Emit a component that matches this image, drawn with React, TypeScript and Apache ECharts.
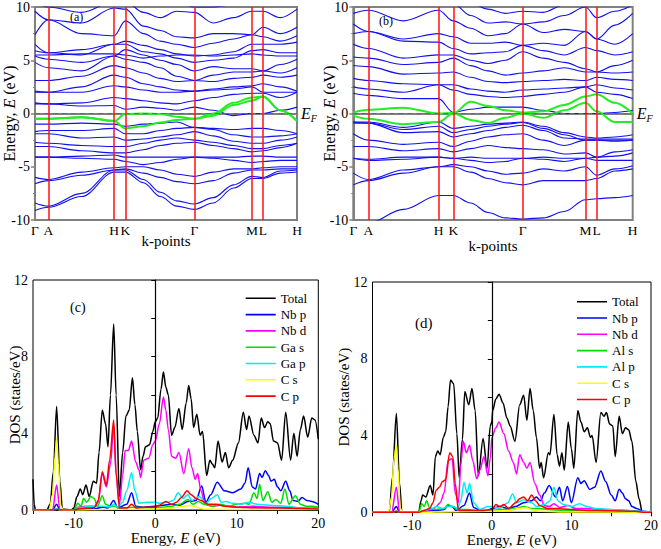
import React, { useEffect, useRef } from "react";
import * as echarts from "echarts";

const FONT = '"Liberation Serif", "Times New Roman", serif';

// ---------- Band structure (a) ----------
const kLabels = ["Γ", "A", "H", "K", "Γ", "M", "L", "H"];
const kPosA = [0, 5.1, 30.2, 34.5, 60.8, 82.8, 87.0, 100];
const kGridA = [0, 5.1, 17.8, 30.2, 34.5, 41.4, 47.8, 54.1, 60.8, 68.0, 75.8, 82.8, 87.0, 93.6, 100];
const bandsA = [
  [-9.1, -8.8, -7.8, -5.5, -5.5, -6.5, -7.8, -8.7, -9.0, -8.4, -7.0, -6.1, -6.1, -5.6, -5.5],
  [-8.4, -8.7, -7.5, -5.3, -5.3, -6.2, -7.4, -8.2, -8.5, -7.9, -6.7, -5.9, -6.0, -5.4, -5.3],
  [-6.6, -6.3, -5.8, -5.3, -5.2, -5.6, -6.0, -6.4, -6.6, -6.3, -5.6, -5.3, -5.3, -5.2, -5.2],
  [-6.0, -6.2, -5.5, -5.1, -5.0, -5.0, -5.3, -5.7, -5.9, -5.5, -5.2, -5.2, -5.1, -5.0, -5.0],
  [-4.1, -4.1, -4.2, -4.3, -4.5, -4.8, -4.6, -4.3, -4.1, -4.2, -4.4, -4.6, -4.5, -4.4, -4.4],
  [-4.1, -4.1, -4.0, -3.9, -4.1, -4.1, -4.1, -4.1, -4.1, -4.1, -4.1, -4.0, -4.0, -4.1, -4.1],
  [-3.1, -3.1, -3.5, -3.7, -3.7, -3.4, -3.0, -2.8, -2.7, -3.0, -3.3, -3.6, -3.5, -3.2, -2.8],
  [-2.7, -2.8, -3.0, -3.1, -3.1, -2.8, -2.5, -2.3, -2.5, -2.7, -3.0, -3.3, -3.3, -3.0, -2.8],
  [-1.9, -1.9, -2.3, -2.2, -2.5, -2.4, -2.2, -2.0, -1.7, -2.1, -2.6, -2.8, -2.8, -2.5, -2.2],
  [-1.7, -1.6, -1.6, -1.4, -1.9, -1.9, -1.6, -1.4, -1.3, -1.5, -2.0, -2.2, -2.2, -2.1, -1.9],
  [-1.0, -1.0, -0.9, -1.0, -1.2, -1.0, -0.9, -0.8, -1.3, -1.4, -1.5, -1.4, -1.4, -1.6, -1.9],
  [0.9, 0.9, 0.7, 0.75, 0.4, 0.6, 0.5, 0.3, 0.6, 0.3, -0.2, 0.0, 0.0, 0.3, 0.6],
  [1.0, 0.9, 1.0, 1.5, 1.4, 1.2, 1.0, 0.9, 1.2, 1.5, 1.8, 1.9, 1.9, 1.5, 2.0],
  [2.0, 2.0, 2.0, 2.6, 2.5, 2.2, 2.0, 2.0, 2.1, 2.2, 2.3, 2.5, 2.0, 2.0, 2.0],
  [2.1, 2.0, 2.5, 3.6, 3.4, 2.8, 2.5, 2.2, 2.1, 2.3, 2.5, 2.6, 2.8, 2.5, 2.1],
  [3.1, 3.1, 3.5, 4.5, 4.3, 3.8, 3.3, 3.0, 3.1, 3.0, 3.3, 3.4, 3.6, 3.4, 3.6],
  [4.8, 4.3, 4.0, 5.4, 5.1, 4.8, 4.3, 3.5, 3.1, 3.6, 3.9, 3.9, 4.0, 3.8, 4.3],
  [5.4, 5.1, 4.8, 5.4, 6.0, 5.5, 5.0, 4.6, 4.0, 4.4, 4.2, 4.2, 4.0, 4.6, 5.1],
  [5.5, 5.5, 5.6, 5.6, 5.5, 5.2, 5.4, 5.5, 5.5, 5.4, 5.5, 5.6, 5.5, 5.4, 5.4],
  [5.9, 5.7, 5.5, 6.5, 6.5, 5.8, 5.6, 5.2, 4.8, 5.0, 5.2, 5.9, 6.0, 5.7, 5.7],
  [6.5, 5.7, 6.0, 6.5, 6.8, 6.4, 6.0, 5.6, 5.4, 5.5, 5.8, 6.5, 6.5, 6.5, 6.7],
  [7.4, 8.8, 7.5, 7.3, 8.7, 7.5, 6.8, 6.5, 6.2, 6.6, 7.0, 7.4, 7.2, 6.8, 7.3],
  [9.6, 8.8, 8.5, 9.9, 9.8, 8.2, 7.8, 7.2, 7.1, 7.5, 7.5, 7.4, 8.1, 7.5, 8.1],
  [10.5, 10.0, 9.5, 10.5, 10.5, 9.5, 9.0, 9.6, 9.5, 8.5, 9.0, 9.6, 9.6, 9.0, 9.8],
  [11, 11, 10.8, 11, 11, 10.5, 10.2, 10.5, 10.0, 10.0, 10.2, 10.5, 10.4, 10.2, 10.5],
];
const greenA = [
  [-0.5, -0.5, -0.35, -0.7, -0.05, 0.0, -0.05, -0.3, -0.5, 0.0, 1.0, 1.5, 1.6, 0.3, -0.7],
  [-0.5, -0.5, -0.35, -0.7, -1.4, -1.2, -0.85, -0.6, -0.5, -0.2, 0.8, 1.2, 1.6, 0.3, -0.7],
];

// ---------- Band structure (b) ----------
const kPosB = [0, 5.4, 30.5, 35.8, 60.6, 83.1, 87.1, 100];
const kGridB = [0, 5.4, 17.9, 30.5, 35.8, 42.0, 48.2, 54.4, 60.6, 68.0, 75.5, 83.1, 87.1, 93.6, 100];
const bandsB = [
  [-10.2, -10.3, -9.0, -7.7, -7.7, -8.4, -9.3, -9.8, -9.9, -9.8, -9.2, -8.1, -8.0, -7.9, -7.7],
  [-6.7, -6.3, -5.6, -5.0, -5.0, -5.5, -6.1, -6.5, -6.7, -6.3, -6.3, -6.3, -6.1, -5.4, -5.2],
  [-5.6, -6.2, -5.3, -5.0, -4.8, -5.0, -5.4, -5.7, -5.6, -5.2, -5.4, -5.0, -5.8, -5.2, -4.9],
  [-4.2, -4.4, -4.3, -4.1, -4.2, -4.4, -4.6, -4.5, -4.2, -4.3, -4.5, -4.2, -4.4, -4.4, -4.4],
  [-4.2, -4.3, -4.1, -4.1, -4.2, -4.1, -4.2, -4.2, -4.2, -4.1, -4.2, -4.2, -4.1, -4.0, -3.7],
  [-3.1, -3.1, -3.5, -3.3, -3.6, -3.3, -3.0, -3.2, -3.3, -3.4, -3.8, -3.7, -4.1, -3.6, -3.4],
  [-1.9, -2.5, -2.9, -2.7, -3.1, -2.6, -2.2, -2.0, -1.9, -2.5, -3.0, -2.5, -2.5, -2.6, -2.5],
  [-0.9, -0.9, -1.8, -1.7, -2.2, -1.9, -1.6, -1.3, -1.1, -1.6, -2.3, -2.4, -2.4, -2.4, -2.4],
  [-0.8, -0.9, -1.5, -1.2, -1.8, -1.5, -1.2, -1.0, -0.85, -1.4, -2.0, -2.5, -2.5, -2.5, -2.5],
  [-0.8, -0.8, -1.3, -0.8, -1.4, -1.2, -1.0, -0.9, -0.8, -1.2, -1.8, -2.2, -2.3, -2.2, -2.0],
  [1.9, 1.7, 1.4, 1.4, 0.1, 0.4, 0.6, 0.6, 0.6, 0.3, 0.0, 0.0, 0.0, 0.1, 0.3],
  [2.5, 2.3, 2.0, 2.7, 2.2, 1.8, 1.6, 1.5, 1.6, 1.8, 2.0, 2.5, 2.0, 1.8, 1.4],
  [3.3, 3.1, 2.8, 2.7, 2.7, 2.3, 2.1, 2.0, 2.2, 2.3, 2.4, 2.5, 2.7, 2.4, 2.2],
  [4.5, 4.4, 3.7, 3.8, 3.9, 3.4, 3.0, 2.9, 3.0, 3.1, 3.2, 3.1, 3.4, 3.2, 3.1],
  [5.3, 5.2, 4.6, 4.8, 5.2, 4.5, 4.0, 3.6, 3.8, 4.0, 4.3, 3.9, 3.9, 3.8, 3.9],
  [6.5, 6.1, 5.2, 5.5, 5.5, 5.0, 4.7, 5.0, 5.8, 5.2, 4.8, 4.2, 3.9, 4.5, 5.0],
  [7.5, 7.7, 6.8, 6.7, 6.1, 5.6, 5.7, 5.8, 6.4, 5.9, 5.5, 6.2, 5.9, 5.5, 5.8],
  [8.4, 7.7, 7.0, 7.5, 7.2, 6.6, 6.6, 6.7, 6.4, 6.6, 6.4, 7.7, 7.0, 6.5, 7.5],
  [9.4, 9.7, 8.7, 9.7, 8.7, 8.0, 7.3, 7.5, 8.4, 7.6, 7.9, 7.7, 7.0, 8.3, 9.4],
  [10.5, 10.4, 10.2, 10.5, 10.3, 9.2, 8.5, 8.6, 8.4, 8.6, 9.2, 10.0, 9.0, 9.6, 10.2],
  [11, 11, 11, 11, 11, 10.4, 9.8, 9.4, 9.6, 9.5, 10.2, 10.5, 10.5, 10.6, 10.8],
];
const greenB = [
  [0.1, 0.35, 0.55, 0.0, 0.05, 1.1, 0.7, 0.3, 0.1, 0.2, 0.8, 1.6, 1.8, 1.0, 0.0],
  [-0.2, -0.5, -1.0, -0.8, 0.0, -0.6, -0.9, -0.4, 0.0, -0.4, 0.3, 1.0, 0.2, -0.8, -0.8],
];

// ---------- DOS (c) ----------
const dosNamesC = ["Total", "Nb p", "Nb d", "Ga s", "Ga p", "C s", "C p"];
const dosNamesD = ["Total", "Nb p", "Nb d", "Al s", "Al p", "C s", "C p"];
const dosColors = ["#000000", "#0000ff", "#ff00ff", "#00dd00", "#00eeee", "#ffff00", "#ff0000"];

const totalC = [[-15,1.6],[-14.85,0.3],[-14.7,0],[-13.3,0],[-12.9,0.3],[-12.5,2.0],[-12.1,5.4],[-11.7,1.5],[-11.4,0.05],[-10.3,0],[-10.0,0.1],[-9.6,0.7],[-9.2,1.1],[-8.9,0.8],[-8.5,1.3],[-8.1,0.7],[-7.6,1.5],[-7.2,1.4],[-6.9,3.0],[-6.5,5.2],[-6.1,4.5],[-5.8,3.3],[-5.5,6.0],[-5.1,9.7],[-4.8,6.0],[-4.4,0.7],[-4.0,3.0],[-3.6,4.9],[-3.2,5.2],[-2.8,6.9],[-2.5,5.5],[-2.2,4.1],[-1.8,2.1],[-1.5,2.8],[-1.2,3.3],[-0.7,3.4],[-0.3,4.1],[0,4.6],[0.3,4.8],[0.7,6.3],[1.0,7.2],[1.3,6.4],[1.6,6.0],[2.0,3.9],[2.4,4.3],[2.9,5.3],[3.3,4.2],[3.8,5.6],[4.1,6.5],[4.4,5.8],[4.7,4.3],[5.1,5.0],[5.5,3.9],[5.8,4.1],[6.3,1.8],[6.7,2.6],[7.0,2.4],[7.3,2.2],[7.7,3.6],[8.2,2.5],[8.6,3.0],[9.0,2.2],[9.5,2.6],[10.2,3.5],[10.8,5.1],[11.2,4.2],[11.5,4.9],[12.1,3.9],[12.6,3.5],[13.0,4.8],[13.4,4.3],[13.8,4.6],[14.1,4.5],[14.5,3.6],[15.0,3.5],[15.5,2.6],[16.0,5.1],[16.6,2.6],[17.0,4.0],[17.4,2.8],[17.8,4.2],[18.2,4.9],[18.7,3.8],[19.2,4.8],[19.6,4.7],[20,3.7]];
const nbpC = [[-15,0],[-12.6,0],[-12.1,0.3],[-11.7,0],[-10,0],[-9.5,0.1],[-8.5,0.1],[-7.5,0.05],[-6.5,0.15],[-5.8,0.1],[-5.1,0.5],[-4.6,0.1],[-3.5,0.3],[-2.9,0.9],[-2.4,0.2],[-1.5,0.15],[0,0.2],[1,0.25],[2,0.3],[3,0.25],[4,0.45],[5,0.5],[5.7,1.25],[6.2,0.4],[6.8,0.8],[7.6,1.45],[8.5,1.0],[9.5,0.9],[10.5,1.1],[11.0,1.4],[11.4,2.2],[11.9,1.2],[12.3,1.1],[12.8,1.9],[13.1,1.7],[13.5,2.05],[13.9,1.8],[14.2,1.5],[14.6,1.6],[15.0,1.2],[15.4,1.0],[16.0,1.5],[16.5,1.0],[16.9,0.5],[17.5,0.45],[18.0,0.65],[18.6,0.5],[19.2,0.45],[20,0.3]];
const nbdC = [[-15,0],[-12.6,0],[-12.1,1.3],[-11.7,0],[-10,0],[-9.5,0.15],[-8.5,0.2],[-7.5,0.2],[-7.0,0.4],[-6.5,1.9],[-6.0,1.2],[-5.5,2.4],[-5.1,4.4],[-4.8,1.8],[-4.4,0.3],[-4.0,1.8],[-3.7,3.1],[-3.3,3.1],[-2.9,3.6],[-2.4,2.5],[-2.0,2.1],[-1.8,1.7],[-1.4,2.6],[-0.8,2.7],[-0.3,3.4],[0,3.6],[0.5,4.5],[1.0,5.9],[1.3,5.2],[1.6,4.2],[2.0,2.8],[2.5,2.7],[2.9,3.0],[3.5,1.9],[4.1,3.2],[4.5,2.2],[4.9,1.6],[5.2,1.9],[5.6,1.0],[6.1,0.3],[7,0.2],[8,0.25],[9,0.2],[10,0.15],[12,0.2],[14,0.15],[16,0.15],[18,0.1],[20,0.1]];
const gasC = [[-15,0],[-12.5,0],[-12.1,0.05],[-11.7,0],[-10,0],[-9.5,0.35],[-9.1,0.2],[-8.8,0.6],[-8.4,0.4],[-7.9,0.7],[-7.5,0.6],[-7.1,0.2],[-6.5,0.75],[-6.1,0.3],[-5.5,0.2],[-5.0,0.2],[-4.0,0.1],[-2.5,0.15],[-1,0.1],[0,0.1],[1,0.15],[2,0.2],[3,0.3],[4,0.55],[4.6,0.3],[5.3,0.45],[6,0.3],[7,0.2],[8,0.3],[9,0.2],[10,0.3],[11,0.35],[11.5,0.3],[12.1,0.9],[12.5,0.6],[12.8,1.35],[13.2,0.5],[13.8,0.95],[14.3,0.4],[14.8,0.55],[15.4,0.35],[15.9,1.1],[16.4,0.3],[17.2,0.75],[17.8,0.3],[18.5,0.2],[19.3,0.2],[20,0.15]];
const gapC = [[-15,0],[-12.5,0],[-12.1,0.05],[-11.7,0],[-10,0],[-9.5,0.1],[-8,0.2],[-6.5,0.2],[-5.5,0.15],[-5.1,0.3],[-4.6,0.15],[-4.0,0.4],[-3.5,1.0],[-2.9,1.95],[-2.5,1.0],[-2.0,0.35],[-1.0,0.4],[0,0.4],[0.5,0.35],[1.5,0.4],[2.2,0.5],[2.8,0.9],[3.4,0.6],[4.0,0.8],[4.5,0.5],[5.4,0.7],[6.2,0.35],[6.9,0.6],[7.6,0.8],[8.1,0.4],[8.7,0.45],[9.5,0.35],[10.5,0.3],[11.5,0.4],[12.5,0.3],[14,0.25],[16,0.2],[18,0.1],[20,0.05]];
const csC = [[-15,0],[-13.0,0],[-12.6,0.8],[-12.3,2.8],[-12.1,3.7],[-11.9,2.5],[-11.6,0.2],[-11.3,0],[-10,0],[-6,0.03],[0,0.05],[2,0.1],[3.5,0.2],[4.2,0.25],[5,0.15],[6,0.05],[10,0.02],[20,0.02]];
const cpC = [[-15,0],[-12.5,0],[-12.1,0.03],[-11.7,0],[-10,0],[-9.5,0.05],[-8,0.1],[-7.4,0.15],[-7.0,0.5],[-6.5,2.0],[-6.0,1.3],[-5.6,2.6],[-5.1,4.7],[-4.8,1.9],[-4.4,0.1],[-3.5,0.1],[-2.9,0.3],[-2.3,0.1],[-1,0.15],[0,0.15],[0.5,0.25],[1.3,0.45],[2.0,0.3],[2.6,0.4],[3.2,0.65],[3.9,1.0],[4.4,0.8],[5.0,0.6],[5.6,0.5],[6.5,0.3],[7.5,0.3],[8.5,0.2],[10,0.15],[12,0.12],[15,0.1],[18,0.08],[20,0.05]];

// ---------- DOS (d) ----------
const totalD = [[-15,0],[-12.9,0],[-12.5,1.8],[-12.0,5.15],[-11.6,1.5],[-11.3,0],[-9.2,0],[-8.9,0.6],[-8.7,0.9],[-8.3,0.8],[-7.75,1.4],[-7.4,0.9],[-7.1,2.9],[-6.8,3.2],[-6.5,3.0],[-6.1,3.9],[-5.8,4.2],[-5.5,5.5],[-5.2,6.9],[-4.8,6.7],[-4.4,4.1],[-4.1,1.8],[-3.7,3.8],[-3.4,6.3],[-2.9,5.6],[-2.5,6.45],[-2.1,5.3],[-1.7,1.9],[-1.1,3.85],[-0.6,2.3],[-0.2,4.5],[0,4.7],[0.1,5.3],[0.5,5.9],[0.9,6.15],[1.4,5.7],[1.9,4.9],[2.3,4.5],[2.9,3.7],[3.5,5.6],[4.0,6.1],[4.4,4.8],[4.8,6.45],[5.2,5.3],[5.6,3.9],[6.0,2.3],[6.2,2.6],[6.5,1.8],[7.1,3.1],[7.3,3.0],[7.8,5.1],[8.2,3.0],[8.5,2.4],[8.8,3.1],[9.1,2.2],[9.6,4.7],[10.0,3.3],[10.3,2.3],[10.8,5.3],[11.2,4.7],[11.6,4.2],[12.0,4.4],[12.4,3.9],[12.6,4.0],[13.1,2.6],[13.7,5.2],[14.1,5.0],[14.4,5.2],[14.8,4.6],[15.2,4.5],[15.5,2.9],[16.0,5.0],[16.4,4.1],[16.8,4.4],[17.2,4.3],[17.6,3.7],[18.1,1.6],[18.5,0.7],[18.9,0],[20,0]];
const nbpD = [[-15,0],[-12.6,0],[-12.0,0.3],[-11.6,0],[-9.2,0],[-8.5,0.05],[-7,0.1],[-6,0.15],[-5.5,0.35],[-5.0,0.3],[-4.5,0.1],[-3.5,0.35],[-2.8,1.0],[-2.3,0.25],[-1.5,0.1],[-0.5,0.1],[0,0.2],[1,0.3],[2,0.2],[3,0.3],[4,0.5],[5,0.6],[5.6,0.8],[6.1,0.6],[6.6,1.0],[7.2,1.4],[8.0,0.8],[8.5,1.3],[8.9,0.6],[9.5,1.35],[10.0,0.5],[10.8,1.8],[11.2,1.5],[11.6,1.65],[12.3,1.2],[12.9,1.3],[13.7,2.15],[14.3,1.6],[15.0,0.9],[15.5,0.6],[16.0,1.2],[16.4,1.0],[16.8,0.7],[17.2,0.6],[17.6,0.3],[18.2,0.2],[19,0.05],[20,0]];
const nbdD = [[-15,0],[-12.6,0],[-12.0,1.3],[-11.6,0],[-9.2,0],[-8.5,0.1],[-7.5,0.15],[-7.0,0.3],[-6.5,0.5],[-6.0,1.0],[-5.5,2.7],[-5.0,2.8],[-4.6,1.0],[-4.2,0.5],[-3.9,2.5],[-3.6,3.7],[-3.2,3.1],[-2.8,3.5],[-2.4,2.7],[-1.9,1.75],[-1.5,2.2],[-1.0,2.9],[-0.5,1.9],[-0.2,2.8],[0,3.9],[0.5,4.4],[0.9,4.7],[1.5,4.1],[2.1,3.2],[2.7,2.6],[3.1,2.0],[3.5,3.0],[4.0,2.6],[4.4,2.3],[4.8,2.6],[5.4,1.5],[6.0,0.9],[6.6,0.35],[7.2,0.3],[7.8,0.45],[8.5,0.25],[9.6,0.35],[10.5,0.2],[12,0.2],[14,0.15],[16,0.12],[18,0.08],[19,0.02],[20,0]];
const alsD = [[-15,0],[-12.5,0],[-12.0,0.05],[-11.6,0],[-9.2,0],[-8.8,0.45],[-8.5,0.3],[-8.2,0.6],[-7.8,0.2],[-7,0.15],[-6,0.2],[-5.5,0.4],[-5.0,0.3],[-4.3,0.15],[-3,0.15],[-2,0.1],[0,0.1],[1,0.15],[2,0.15],[3,0.2],[4,0.3],[5,0.2],[6,0.2],[7,0.15],[9,0.1],[12,0.1],[15,0.08],[18,0.05],[19,0],[20,0]];
const alpD = [[-15,0],[-12.5,0],[-12.0,0.05],[-11.6,0],[-9.2,0],[-8.5,0.1],[-7.5,0.2],[-7.0,0.3],[-6.2,0.2],[-5.5,0.3],[-4.8,0.3],[-4.3,0.2],[-3.9,0.6],[-3.5,1.55],[-3.1,1.0],[-2.8,1.5],[-2.3,0.5],[-1.5,0.15],[-0.5,0.3],[0,0.3],[1,0.2],[2,0.5],[2.6,0.95],[3.1,0.5],[4.0,0.65],[5.0,0.5],[5.6,0.3],[6.6,0.4],[7.3,0.6],[7.8,1.3],[8.3,0.6],[9.0,0.4],[10,0.3],[11,0.45],[12,0.3],[13,0.2],[15,0.15],[17,0.1],[18.5,0.05],[20,0]];
const csD = [[-15,0],[-13.0,0],[-12.6,0.8],[-12.3,2.8],[-12.0,3.5],[-11.8,2.3],[-11.5,0.2],[-11.2,0],[-9,0],[-5,0.03],[0,0.05],[2,0.1],[3.5,0.2],[4.2,0.25],[5,0.15],[6,0.05],[10,0.02],[20,0]];
const cpD = [[-15,0],[-12.5,0],[-12.0,0.05],[-11.6,0],[-9.2,0],[-8.5,0.1],[-7.8,0.2],[-7.4,0.5],[-7.0,1.15],[-6.6,1.3],[-6.2,1.6],[-5.8,1.7],[-5.3,3.1],[-4.9,2.9],[-4.6,1.5],[-4.2,0.1],[-3,0.1],[-1,0.1],[0,0.15],[0.5,0.4],[1.0,0.3],[1.5,0.4],[2.1,0.2],[3.0,0.5],[3.5,0.7],[4.0,0.8],[4.5,0.6],[5.0,0.9],[5.5,0.6],[6.0,0.35],[7,0.2],[8,0.2],[10,0.15],[12,0.1],[15,0.08],[18,0.05],[19,0],[20,0]];

const dosC = [totalC, nbpC, nbdC, gasC, gapC, csC, cpC];
const dosD = [totalD, nbpD, nbdD, alsD, alpD, csD, cpD];

// thin horizontal line icon; tiny corner triangles fix the icon's bounding box
const LINE_ICON = "path://M0,0 L0.05,0 L0,0.05 Z M0,6.2 L30,6.2 L30,7.8 L0,7.8 Z M30,14 L29.95,14 L30,13.95 Z";

function buildOption() {
  const txt = { fontFamily: FONT, color: "#000" };
  const gray = "#808080";

  const bandX = (gi: number, kPos: number[], nameGap: number) => ({
    type: "value",
    gridIndex: gi,
    min: 0,
    max: 100,
    axisLine: { show: true, lineStyle: { color: gray, width: 2 } },
    axisTick: { show: false },
    splitLine: { show: false },
    axisLabel: {
      customValues: kPos,
      fontSize: 13.5,
      margin: 3,
      ...txt,
      formatter: (v: number) => {
        const i = kPos.findIndex((p) => Math.abs(p - v) < 1e-6);
        return i >= 0 ? kLabels[i] : "";
      },
    },
    name: "k-points",
    nameLocation: "middle",
    nameGap,
    nameMoveOverlap: false,
    nameTextStyle: { fontSize: 15, ...txt },
  });
  const bandY = (gi: number, nameGap: number) => ({
    type: "value",
    gridIndex: gi,
    min: -10,
    max: 10,
    interval: 5,
    axisLine: { show: true, lineStyle: { color: gray, width: 2 } },
    axisTick: { show: true, inside: false, length: 4, lineStyle: { color: gray, width: 1.5 } },
    minorTick: { show: true, splitNumber: 2, length: 2, lineStyle: { color: gray } },
    splitLine: { show: false },
    axisLabel: { fontSize: 14, margin: 5, ...txt },
    name: "Energy, {i|E} (eV)",
    nameLocation: "middle",
    nameGap,
    nameMoveOverlap: false,
    nameTextStyle: {
      fontSize: 16,
      ...txt,
      rich: { i: { fontStyle: "italic", fontSize: 16, fontFamily: FONT, color: "#000" } },
    },
  });
  const dosX = (gi: number, nameGap: number) => ({
    type: "value",
    gridIndex: gi,
    min: -15,
    max: 20,
    interval: 5,
    axisLine: { show: true, lineStyle: { color: "#000", width: 1 } },
    axisTick: { show: true, inside: false, length: 4, lineStyle: { color: "#000" } },
    splitLine: { show: false },
    axisLabel: {
      fontSize: 14,
      margin: 6,
      ...txt,
      formatter: (v: number) => (Math.abs(v % 10) < 1e-6 ? String(v) : ""),
    },
    name: "Energy, {i|E} (eV)",
    nameLocation: "middle",
    nameGap,
    nameMoveOverlap: false,
    nameTextStyle: {
      fontSize: 15,
      ...txt,
      rich: { i: { fontStyle: "italic", fontSize: 15, fontFamily: FONT, color: "#000" } },
    },
  });
  const dosY = (gi: number, nameGap: number) => ({
    type: "value",
    gridIndex: gi,
    min: 0,
    max: 12,
    interval: 2,
    axisLine: { show: true, lineStyle: { color: "#000", width: 1 } },
    axisTick: { show: true, inside: false, length: 4, lineStyle: { color: "#000" } },
    splitLine: { show: false },
    axisLabel: {
      fontSize: 14,
      margin: 5,
      ...txt,
      formatter: (v: number) => (Math.abs(v % 4) < 1e-6 ? String(v) : ""),
    },
    name: "DOS (states/eV)",
    nameLocation: "middle",
    nameGap,
    nameMoveOverlap: false,
    nameTextStyle: { fontSize: 15, ...txt },
  });

  const series: any[] = [];
  const efLabel = {
    show: true,
    position: "end",
    distance: 4,
    formatter: "{e|E}{f|F}",
    rich: {
      e: { fontStyle: "italic", fontSize: 16, fontFamily: FONT, color: "#000" },
      f: { fontStyle: "italic", fontSize: 10, fontFamily: FONT, color: "#000", padding: [10, 0, 0, 0] },
    },
  };
  const addBands = (gi: number, kGrid: number[], kPos: number[], bands: number[][], greens: number[][]) => {
    bands.forEach((b, bi) => {
      series.push({
        type: "line",
        xAxisIndex: gi,
        yAxisIndex: gi,
        data: kGrid.map((k, i) => [k, b[i]]),
        symbol: "none",
        smooth: 0.35,
        smoothMonotone: "x",
        silent: true,
        lineStyle: { color: "#1010f0", width: 1.1 },
        z: 2,
        markLine:
          bi === 0
            ? {
                silent: true,
                symbol: ["none", "none"],
                animation: false,
                data: [
                  ...kPos.slice(1, -1).map((k) => ({
                    xAxis: k,
                    lineStyle: { color: "#ff1010", width: 1.5, type: "solid" },
                    label: { show: false },
                  })),
                  {
                    yAxis: 0,
                    lineStyle: { color: "#ff00ff", width: 1.2, type: [5, 4] },
                    label: efLabel,
                  },
                ],
              }
            : undefined,
      });
    });
    greens.forEach((g) => {
      series.push({
        type: "line",
        xAxisIndex: gi,
        yAxisIndex: gi,
        data: kGrid.map((k, i) => [k, g[i]]),
        symbol: "none",
        smooth: 0.35,
        smoothMonotone: "x",
        silent: true,
        lineStyle: { color: "#22ee22", width: 2 },
        z: 3,
      });
    });
  };
  addBands(0, kGridA, kPosA, bandsA, greenA);
  addBands(1, kGridB, kPosB, bandsB, greenB);

  const addDos = (gi: number, names: string[], sets: number[][][]) => {
    sets.forEach((d, i) => {
      series.push({
        type: "line",
        name: names[i],
        xAxisIndex: gi,
        yAxisIndex: gi,
        data: d,
        symbol: "none",
        smooth: 0.3,
        smoothMonotone: "x",
        silent: true,
        color: dosColors[i],
        lineStyle: { color: dosColors[i], width: 1.5 },
        z: 2 + i * 0.01,
        markLine:
          i === 0
            ? {
                silent: true,
                symbol: ["none", "none"],
                animation: false,
                data: [{ xAxis: 0, lineStyle: { color: "#000", width: 1.2, type: "solid" }, label: { show: false } }],
              }
            : undefined,
      });
    });
  };
  addDos(2, dosNamesC, dosC);
  addDos(3, dosNamesD, dosD);

  const legendBase = {
    orient: "vertical",
    itemWidth: 30,
    itemHeight: 14,
    itemGap: 2.3,
    icon: LINE_ICON,
    selectedMode: false,
    textStyle: { fontSize: 13, ...txt },
  };

  return {
    animation: false,
    backgroundColor: "#fff",
    textStyle: { fontFamily: FONT },
    grid: [
      { left: 35, top: 6, width: 262, height: 214, show: true, borderColor: "#808080", borderWidth: 2 },
      { left: 353.3, top: 6.5, width: 279.4, height: 213.5, show: true, borderColor: "#808080", borderWidth: 2 },
      { left: 33, top: 280, width: 285.3, height: 230, show: true, borderColor: "#000", borderWidth: 1 },
      { left: 372.5, top: 282, width: 280.2, height: 230.3, show: true, borderColor: "#000", borderWidth: 1 },
    ],
    xAxis: [bandX(0, kPosA, 13), bandX(1, kPosB, 18), dosX(2, 20), dosX(3, 20)],
    yAxis: [bandY(0, 18), bandY(1, 16), dosY(2, 11), dosY(3, 21)],
    legend: [
      { ...legendBase, data: dosNamesC, left: 240.7, top: 286.3 },
      { ...legendBase, data: dosNamesD, left: 572, top: 289.7 },
    ],
    graphic: [
      { type: "text", left: 70, top: 11, style: { text: "(a)", font: `12px ${FONT}`, fill: "#000" } },
      { type: "text", left: 379, top: 15, style: { text: "(b)", font: `12px ${FONT}`, fill: "#000" } },
      { type: "text", left: 70, top: 300, style: { text: "(c)", font: `14px ${FONT}`, fill: "#000" } },
      { type: "text", left: 415, top: 315, style: { text: "(d)", font: `15px ${FONT}`, fill: "#000" } },
    ],
    series,
  };
}

export default function App() {
  const ref = useRef<HTMLDivElement>(null);
  useEffect(() => {
    if (!ref.current) return;
    const chart = echarts.init(ref.current, undefined, { renderer: "svg" });
    chart.setOption(buildOption() as any);
    return () => chart.dispose();
  }, []);
  return (
    <div
      ref={ref}
      style={{ position: "fixed", left: 0, top: 0, width: 661, height: 549, background: "#fff" }}
    />
  );
}
